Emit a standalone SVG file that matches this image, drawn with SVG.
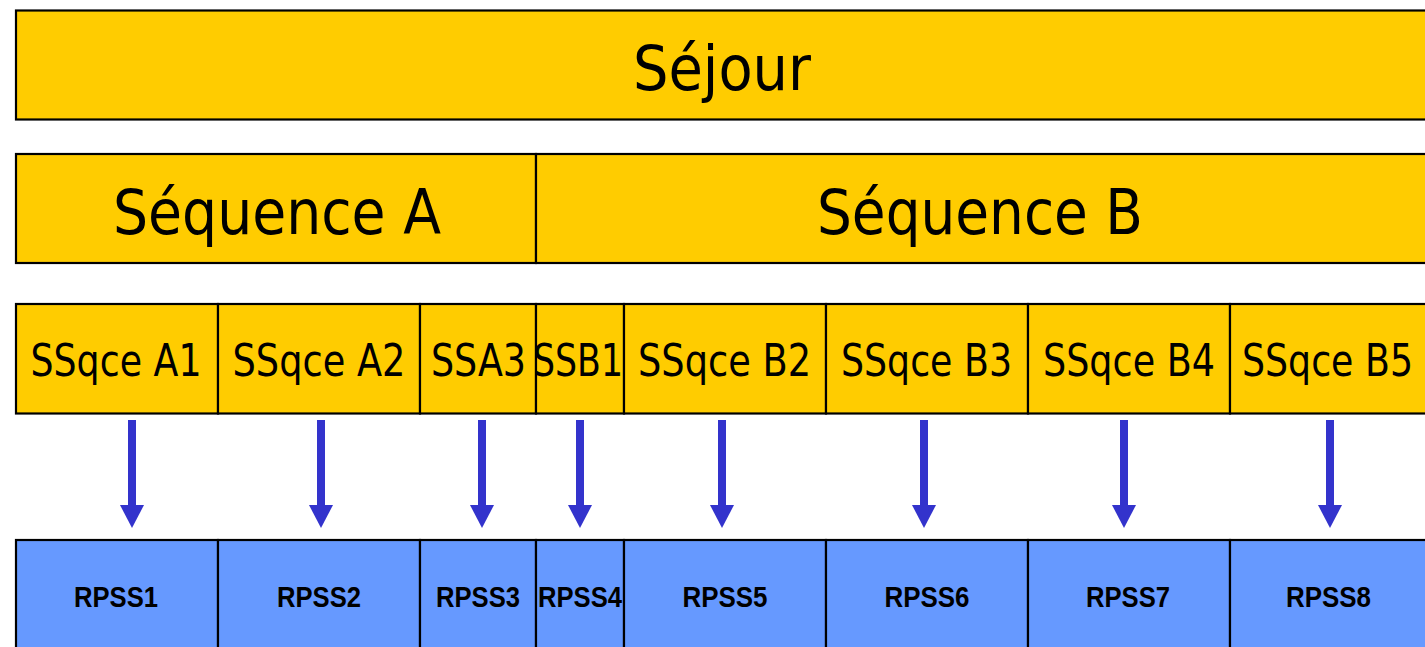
<svg xmlns="http://www.w3.org/2000/svg" width="1425" height="647" viewBox="0 0 1425 647">
<style>
.y{fill:#FFCC00;stroke:#000;stroke-width:2.2}
.b{fill:#6699FF;stroke:#000;stroke-width:2.2}
.t{font-family:"DejaVu Sans",Verdana,sans-serif;fill:#000;text-anchor:middle}
.big{font-size:62px}
.mid{font-size:44px}
.sm{font-family:"Liberation Sans",Arial,sans-serif;font-weight:bold;font-size:29px;fill:#000;text-anchor:middle}
.shaft{stroke:#3333CC;stroke-width:8}
</style>
<defs>
<marker id="ah" markerWidth="24" markerHeight="23" refX="12" refY="0" orient="0" markerUnits="userSpaceOnUse" viewBox="0 0 24 23">
<path d="M0,0 L24,0 L12,23 Z" fill="#3333CC"/>
</marker>
</defs>
<rect width="1425" height="647" fill="#fff"/>
<g id="sejour">
<rect class="y" x="16" y="10.5" width="1420" height="109"/>
<text class="t big" x="722" y="90" textLength="178" lengthAdjust="spacingAndGlyphs">Séjour</text>
</g>
<g id="seqA">
<rect class="y" x="16" y="154" width="520" height="109"/>
<text class="t big" x="277" y="234" textLength="328" lengthAdjust="spacingAndGlyphs">Séquence A</text>
</g>
<g id="seqB">
<rect class="y" x="536" y="154" width="900" height="109"/>
<text class="t big" x="980" y="234" textLength="326" lengthAdjust="spacingAndGlyphs">Séquence B</text>
</g>
<g id="ssA1"><rect class="y" x="16" y="304" width="202" height="109.5"/><text class="t mid" x="116" y="376" textLength="171" lengthAdjust="spacingAndGlyphs">SSqce A1</text></g>
<g id="ssA2"><rect class="y" x="218" y="304" width="202" height="109.5"/><text class="t mid" x="319" y="376" textLength="173" lengthAdjust="spacingAndGlyphs">SSqce A2</text></g>
<g id="ssA3"><rect class="y" x="420" y="304" width="116" height="109.5"/><text class="t mid" x="478.5" y="376" textLength="95" lengthAdjust="spacingAndGlyphs">SSA3</text></g>
<g id="ssB1"><rect class="y" x="536" y="304" width="88" height="109.5"/><text class="t mid" x="578" y="376" textLength="90" lengthAdjust="spacingAndGlyphs">SSB1</text></g>
<g id="ssB2"><rect class="y" x="624" y="304" width="202" height="109.5"/><text class="t mid" x="724.5" y="376" textLength="173" lengthAdjust="spacingAndGlyphs">SSqce B2</text></g>
<g id="ssB3"><rect class="y" x="826" y="304" width="202" height="109.5"/><text class="t mid" x="926.5" y="376" textLength="171" lengthAdjust="spacingAndGlyphs">SSqce B3</text></g>
<g id="ssB4"><rect class="y" x="1028" y="304" width="202" height="109.5"/><text class="t mid" x="1129" y="376" textLength="172" lengthAdjust="spacingAndGlyphs">SSqce B4</text></g>
<g id="ssB5"><rect class="y" x="1230" y="304" width="206" height="109.5"/><text class="t mid" x="1327.5" y="376" textLength="171" lengthAdjust="spacingAndGlyphs">SSqce B5</text></g>
<g id="connectors">
<line class="shaft" x1="132" y1="420" x2="132" y2="505" marker-end="url(#ah)"/>
<line class="shaft" x1="321" y1="420" x2="321" y2="505" marker-end="url(#ah)"/>
<line class="shaft" x1="482" y1="420" x2="482" y2="505" marker-end="url(#ah)"/>
<line class="shaft" x1="580" y1="420" x2="580" y2="505" marker-end="url(#ah)"/>
<line class="shaft" x1="722" y1="420" x2="722" y2="505" marker-end="url(#ah)"/>
<line class="shaft" x1="924" y1="420" x2="924" y2="505" marker-end="url(#ah)"/>
<line class="shaft" x1="1124" y1="420" x2="1124" y2="505" marker-end="url(#ah)"/>
<line class="shaft" x1="1330" y1="420" x2="1330" y2="505" marker-end="url(#ah)"/>
</g>
<g id="rpss1"><rect class="b" x="16" y="540" width="202" height="120"/><text class="sm" x="116" y="607" textLength="84" lengthAdjust="spacingAndGlyphs">RPSS1</text></g>
<g id="rpss2"><rect class="b" x="218" y="540" width="202" height="120"/><text class="sm" x="319" y="607" textLength="84" lengthAdjust="spacingAndGlyphs">RPSS2</text></g>
<g id="rpss3"><rect class="b" x="420" y="540" width="116" height="120"/><text class="sm" x="478" y="607" textLength="84" lengthAdjust="spacingAndGlyphs">RPSS3</text></g>
<g id="rpss4"><rect class="b" x="536" y="540" width="88" height="120"/><text class="sm" x="580" y="607" textLength="84" lengthAdjust="spacingAndGlyphs">RPSS4</text></g>
<g id="rpss5"><rect class="b" x="624" y="540" width="202" height="120"/><text class="sm" x="725" y="607" textLength="85" lengthAdjust="spacingAndGlyphs">RPSS5</text></g>
<g id="rpss6"><rect class="b" x="826" y="540" width="202" height="120"/><text class="sm" x="927" y="607" textLength="85" lengthAdjust="spacingAndGlyphs">RPSS6</text></g>
<g id="rpss7"><rect class="b" x="1028" y="540" width="202" height="120"/><text class="sm" x="1128" y="607" textLength="84" lengthAdjust="spacingAndGlyphs">RPSS7</text></g>
<g id="rpss8"><rect class="b" x="1230" y="540" width="206" height="120"/><text class="sm" x="1328.5" y="607" textLength="85" lengthAdjust="spacingAndGlyphs">RPSS8</text></g>
</svg>
